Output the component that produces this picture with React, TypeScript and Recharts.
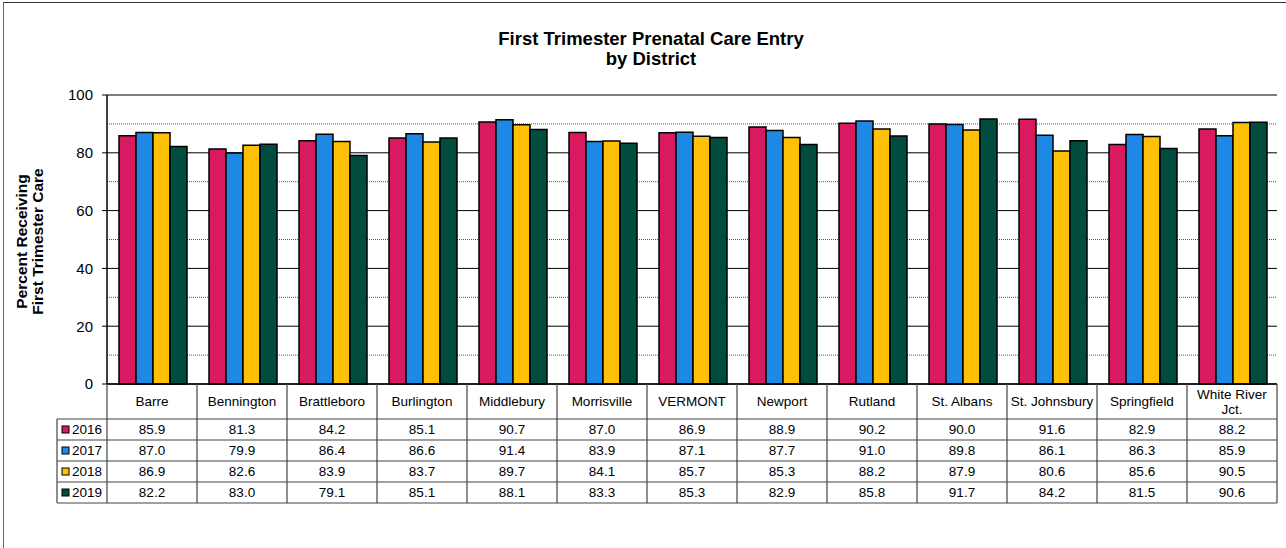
import React from 'react';
import { BarChart, Bar, XAxis, YAxis, CartesianGrid, Label } from 'recharts';

const districts = ['Barre', 'Bennington', 'Brattleboro', 'Burlington', 'Middlebury', 'Morrisville', 'VERMONT', 'Newport', 'Rutland', 'St. Albans', 'St. Johnsbury', 'Springfield', 'White River Jct.'];
const years = ['2016', '2017', '2018', '2019'];
const values2016 = [85.9, 81.3, 84.2, 85.1, 90.7, 87.0, 86.9, 88.9, 90.2, 90.0, 91.6, 82.9, 88.2];
const values2017 = [87.0, 79.9, 86.4, 86.6, 91.4, 83.9, 87.1, 87.7, 91.0, 89.8, 86.1, 86.3, 85.9];
const values2018 = [86.9, 82.6, 83.9, 83.7, 89.7, 84.1, 85.7, 85.3, 88.2, 87.9, 80.6, 85.6, 90.5];
const values2019 = [82.2, 83.0, 79.1, 85.1, 88.1, 83.3, 85.3, 82.9, 85.8, 91.7, 84.2, 81.5, 90.6];
const yTicks = [0, 20, 40, 60, 80, 100];
const minorTicks = [10, 30, 50, 70, 90];
const colors = ['#D81B60', '#1E88E5', '#FFC107', '#004D40'];
const seriesValues = [values2016, values2017, values2018, values2019];

const data = districts.map((d, i) => ({
  name: d,
  y2016: values2016[i],
  y2017: values2017[i],
  y2018: values2018[i],
  y2019: values2019[i],
}));

const W = 1286;
const H = 548;
const PLOT_LEFT = 107;
const PLOT_RIGHT = 1277;
const PLOT_TOP = 95;
const PLOT_BOTTOM = 384;
const Y_AXIS_W = 60;
const X_AXIS_H = 130;
const HEADER_H = 35;
const ROW_H = 21;
const FONT = '"Liberation Sans", Arial, sans-serif';
const LINE = '#444';

function splitLabel(s: string): string[] {
  if (s.length <= 14) return [s];
  const k = s.lastIndexOf(' ');
  return [s.slice(0, k), s.slice(k + 1)];
}

function TableTick(props: any) {
  const { x, y, index, payload } = props;
  const bw = (PLOT_RIGHT - PLOT_LEFT) / districts.length;
  const top = y;
  const left = x - bw / 2;
  const right = x + bw / 2;
  const bottom = top + HEADER_H + ROW_H * years.length;
  const lines = splitLabel(String(payload.value));
  const els: any[] = [];
  lines.forEach((ln, li) => {
    const cy = top + HEADER_H / 2 + (li - (lines.length - 1) / 2) * 15;
    els.push(
      <text key={'h' + li} x={x} y={cy} dy="0.35em" textAnchor="middle" fontSize={13.5} fontFamily={FONT} fill="#000">{ln}</text>
    );
  });
  els.push(<line key="vr" x1={right} x2={right} y1={top} y2={bottom} stroke={LINE} strokeWidth={1.2} />);
  if (index === 0) {
    els.push(<line key="vl" x1={left} x2={left} y1={top} y2={bottom} stroke={LINE} strokeWidth={1.2} />);
    const lx = left - 50;
    els.push(<line key="vll" x1={lx} x2={lx} y1={top + HEADER_H} y2={bottom} stroke={LINE} strokeWidth={1.2} />);
    years.forEach((yr, r) => {
      const ry = top + HEADER_H + r * ROW_H;
      els.push(<line key={'lh' + r} x1={lx} x2={left} y1={ry} y2={ry} stroke={LINE} strokeWidth={1.2} />);
      els.push(<rect key={'lr' + r} x={lx + 5} y={ry + ROW_H / 2 - 3.5} width={7} height={7} fill={colors[r]} stroke="#000" strokeWidth={1} />);
      els.push(<text key={'lt' + r} x={lx + 15} y={ry + ROW_H / 2} dy="0.35em" fontSize={13.5} fontFamily={FONT} fill="#000">{yr}</text>);
    });
    els.push(<line key="lhb" x1={lx} x2={left} y1={bottom} y2={bottom} stroke={LINE} strokeWidth={1.2} />);
  }
  years.forEach((yr, r) => {
    const ry = top + HEADER_H + r * ROW_H;
    els.push(<line key={'rh' + r} x1={left} x2={right} y1={ry} y2={ry} stroke={LINE} strokeWidth={1.2} />);
    els.push(
      <text key={'rv' + r} x={x} y={ry + ROW_H / 2} dy="0.35em" textAnchor="middle" fontSize={13.5} fontFamily={FONT} fill="#000">{seriesValues[r][index].toFixed(1)}</text>
    );
  });
  els.push(<line key="rb" x1={left} x2={right} y1={bottom} y2={bottom} stroke={LINE} strokeWidth={1.2} />);
  return <g>{els}</g>;
}

function YLabel() {
  const cy = PLOT_TOP + (PLOT_BOTTOM - PLOT_TOP) / 2 + 2;
  const cx = 30;
  return (
    <g transform={`translate(${cx},${cy}) rotate(-90)`}>
      <text x={0} y={-8} dy="0.35em" textAnchor="middle" fontSize={15.5} fontWeight="bold" fontFamily={FONT} fill="#000">Percent Receiving</text>
      <text x={0} y={8} dy="0.35em" textAnchor="middle" fontSize={15.5} fontWeight="bold" fontFamily={FONT} fill="#000">First Trimester Care</text>
    </g>
  );
}

export default function App() {
  return (
    <div style={{ position: 'absolute', left: 0, top: 0, width: W, height: H, background: '#fff', overflow: 'hidden' }}>
      <div style={{ position: 'absolute', left: 3, top: 2, width: W, height: H, borderLeft: '1px solid #666', borderTop: '1px solid #333' }} />
      <div style={{ position: 'absolute', left: 351, width: 600, top: 29, textAlign: 'center', fontFamily: FONT, fontWeight: 'bold', fontSize: 18.5, lineHeight: '20px', color: '#000' }}>
        First Trimester Prenatal Care Entry<br />by District
      </div>
      <div style={{ position: 'absolute', left: 0, top: 0 }}>
        <BarChart
          width={W}
          height={H}
          data={data}
          margin={{ top: PLOT_TOP, left: PLOT_LEFT - Y_AXIS_W, right: W - PLOT_RIGHT, bottom: H - PLOT_BOTTOM - X_AXIS_H }}
          barCategoryGap={12}
          barGap={0}
        >
          <CartesianGrid vertical={false} horizontalValues={minorTicks} stroke="#555" strokeDasharray="1 1" strokeWidth={1} />
          <CartesianGrid vertical={false} horizontalValues={yTicks} stroke="#000" strokeWidth={1} />
          <XAxis
            dataKey="name"
            interval={0}
            height={X_AXIS_H}
            tickLine={false}
            tickSize={0}
            tickMargin={0}
            axisLine={{ stroke: '#000', strokeWidth: 1.5 }}
            tick={<TableTick />}
          />
          <YAxis
            width={Y_AXIS_W}
            domain={[0, 100]}
            ticks={yTicks}
            interval={0}
            tickSize={5}
            tickMargin={9}
            tick={{ fontSize: 15, fill: '#000', fontFamily: FONT }}
            tickLine={{ stroke: '#000' }}
            axisLine={{ stroke: '#000', strokeWidth: 1.5 }}
          >
            <Label content={<YLabel />} />
          </YAxis>
          <YAxis yAxisId="right" orientation="right" width={0} domain={[0, 100]} tick={false} tickLine={false} axisLine={{ stroke: '#000', strokeWidth: 1.5 }} />
          {years.map((yr, i) => (
            <Bar key={yr} dataKey={'y' + yr} name={yr} fill={colors[i]} stroke="#000" strokeWidth={1.5} isAnimationActive={false} />
          ))}
        </BarChart>
      </div>
    </div>
  );
}
